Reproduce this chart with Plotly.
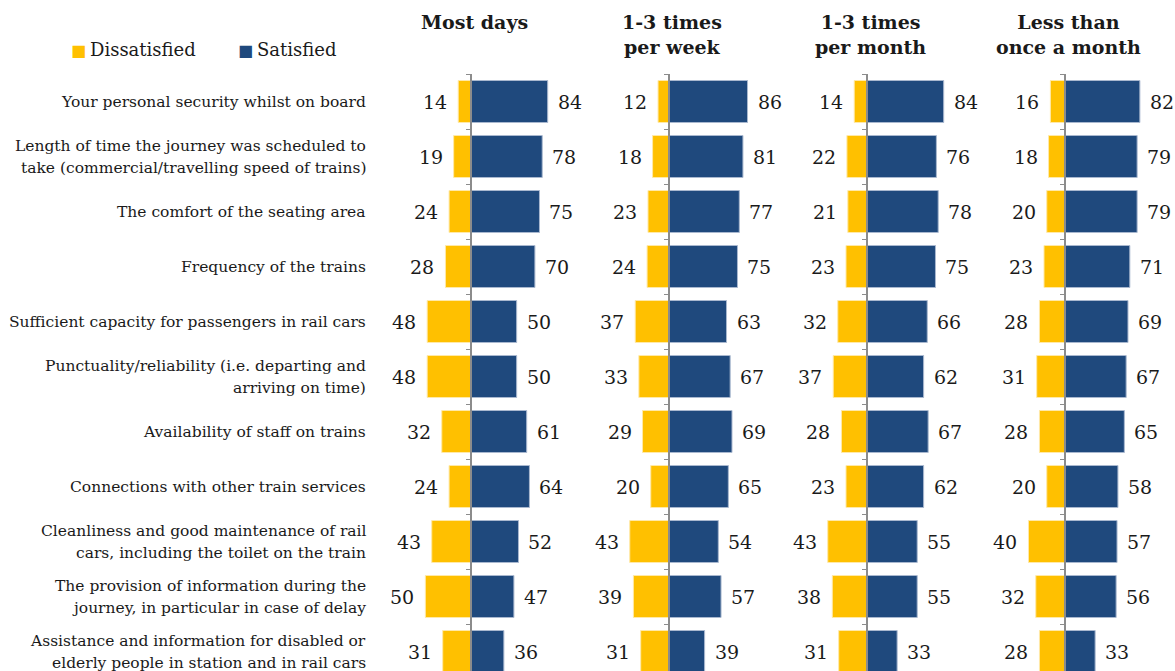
import plotly.graph_objects as go

# Survey items, top to bottom
categories = [
    "Your personal security whilst on board",
    "Length of time the journey was scheduled to<br>take (commercial/travelling speed of trains)",
    "The comfort of the seating area",
    "Frequency of the trains",
    "Sufficient capacity for passengers in rail cars",
    "Punctuality/reliability (i.e. departing and<br>arriving on time)",
    "Availability of staff on trains",
    "Connections with other train services",
    "Cleanliness and good maintenance of rail<br>cars, including the toilet on the train",
    "The provision of information during the<br>journey, in particular in case of delay",
    "Assistance and information for disabled or<br>elderly people in station and in rail cars",
]

panels = ["Most days", "1-3 times<br>per week", "1-3 times<br>per month", "Less than<br>once a month"]

series_names = ["Dissatisfied", "Satisfied"]

dissatisfied = [
    [14, 19, 24, 28, 48, 48, 32, 24, 43, 50, 31],
    [12, 18, 23, 24, 37, 33, 29, 20, 43, 39, 31],
    [14, 22, 21, 23, 32, 37, 28, 23, 43, 38, 31],
    [16, 18, 20, 23, 28, 31, 28, 20, 40, 32, 28],
]
satisfied = [
    [84, 78, 75, 70, 50, 50, 61, 64, 52, 47, 36],
    [86, 81, 77, 75, 63, 67, 69, 65, 54, 57, 39],
    [84, 76, 78, 75, 66, 62, 67, 62, 55, 55, 33],
    [82, 79, 79, 71, 69, 67, 65, 58, 57, 56, 33],
]

YELLOW = "#FFC000"
BLUE = "#1F497D"
AXIS_GREY = "#8C8C8C"
TEXT = "#1a1a1a"
FONT = "DejaVu Serif"
W, H = 1175, 671

# layout geometry (pixels)
zero_px = [471, 669, 867, 1065]
px_per_unit = 0.913
x_lo, x_hi = -60, 100
plot_top = 74
row_h = 55
y_range = [-0.5 + (H - plot_top) / row_h, -0.5]

fig = go.Figure()
layout = {}
annotations = []

for k in range(4):
    sfx = "" if k == 0 else str(k + 1)
    xa, ya = "x" + sfx, "y" + sfx
    fig.add_trace(go.Bar(
        y=categories, x=[-v for v in dissatisfied[k]], orientation="h",
        name=series_names[0], marker=dict(color=YELLOW, line=dict(color="#FFE9A8", width=1)),
        xaxis=xa, yaxis=ya, showlegend=False, hoverinfo="skip",
    ))
    fig.add_trace(go.Bar(
        y=categories, x=satisfied[k], orientation="h",
        name=series_names[1], marker=dict(color=BLUE, line=dict(color="#A9B8CF", width=1)),
        xaxis=xa, yaxis=ya, showlegend=False, hoverinfo="skip",
    ))
    d0 = (zero_px[k] + x_lo * px_per_unit) / W
    d1 = (zero_px[k] + x_hi * px_per_unit) / W
    layout["xaxis" + sfx] = dict(domain=[d0, d1], range=[x_lo, x_hi], visible=False,
                                 fixedrange=True, anchor=ya)
    layout["yaxis" + sfx] = dict(
        domain=[0, 1 - plot_top / H], range=y_range, type="category",
        categoryorder="array", categoryarray=categories,
        anchor="free", position=zero_px[k] / W,
        showline=True, linecolor=AXIS_GREY, linewidth=1.5,
        ticks="outside", tickson="boundaries", ticklen=4, tickcolor=AXIS_GREY, tickwidth=1,
        showticklabels=False, showgrid=False, zeroline=False,
    )
    # value labels
    for c, dv, sv in zip(categories, dissatisfied[k], satisfied[k]):
        annotations.append(dict(x=-dv, y=c, xref=xa, yref=ya, text=str(dv), showarrow=False,
                                xanchor="right", xshift=-9, font=dict(size=19, color=TEXT, family=FONT)))
        annotations.append(dict(x=sv, y=c, xref=xa, yref=ya, text=str(sv), showarrow=False,
                                xanchor="left", xshift=8, font=dict(size=19, color=TEXT, family=FONT)))
    # panel headers
    annotations.append(dict(x=(zero_px[k] + 3) / W, y=1 - 9 / H, xref="paper", yref="paper",
                            text="<b>" + panels[k] + "</b>", showarrow=False, xanchor="center",
                            yanchor="top", align="center",
                            font=dict(size=19, color=TEXT, family=FONT)))

# category labels, one annotation per text line for wider line spacing
line_gap = 22
for c in categories:
    lines = c.split("<br>")
    n = len(lines)
    for i, ln in enumerate(lines):
        annotations.append(dict(x=368 / W, y=c, xref="paper", yref="y", text=ln, showarrow=False,
                                xanchor="right", align="right",
                                yshift=((n - 1) / 2 - i) * line_gap,
                                font=dict(size=15.5, color=TEXT, family=FONT)))

# legend
legend_items = [(series_names[0], YELLOW, 69), (series_names[1], BLUE, 236)]
for name, col, xpx in legend_items:
    annotations.append(dict(
        x=xpx / W, y=1 - 49 / H, xref="paper", yref="paper", showarrow=False,
        xanchor="left", yanchor="middle",
        text='<span style="color:%s;font-size:16px">■</span><span style="font-size:12px"> </span>%s'
             % (col, name),
        font=dict(size=18, color=TEXT, family=FONT)))

fig.update_layout(
    width=W, height=H,
    margin=dict(l=0, r=0, t=0, b=0),
    paper_bgcolor="white", plot_bgcolor="white",
    barmode="relative", bargap=13 / 55,
    showlegend=False,
    annotations=annotations,
    **layout,
)

fig.write_html("out.html")
